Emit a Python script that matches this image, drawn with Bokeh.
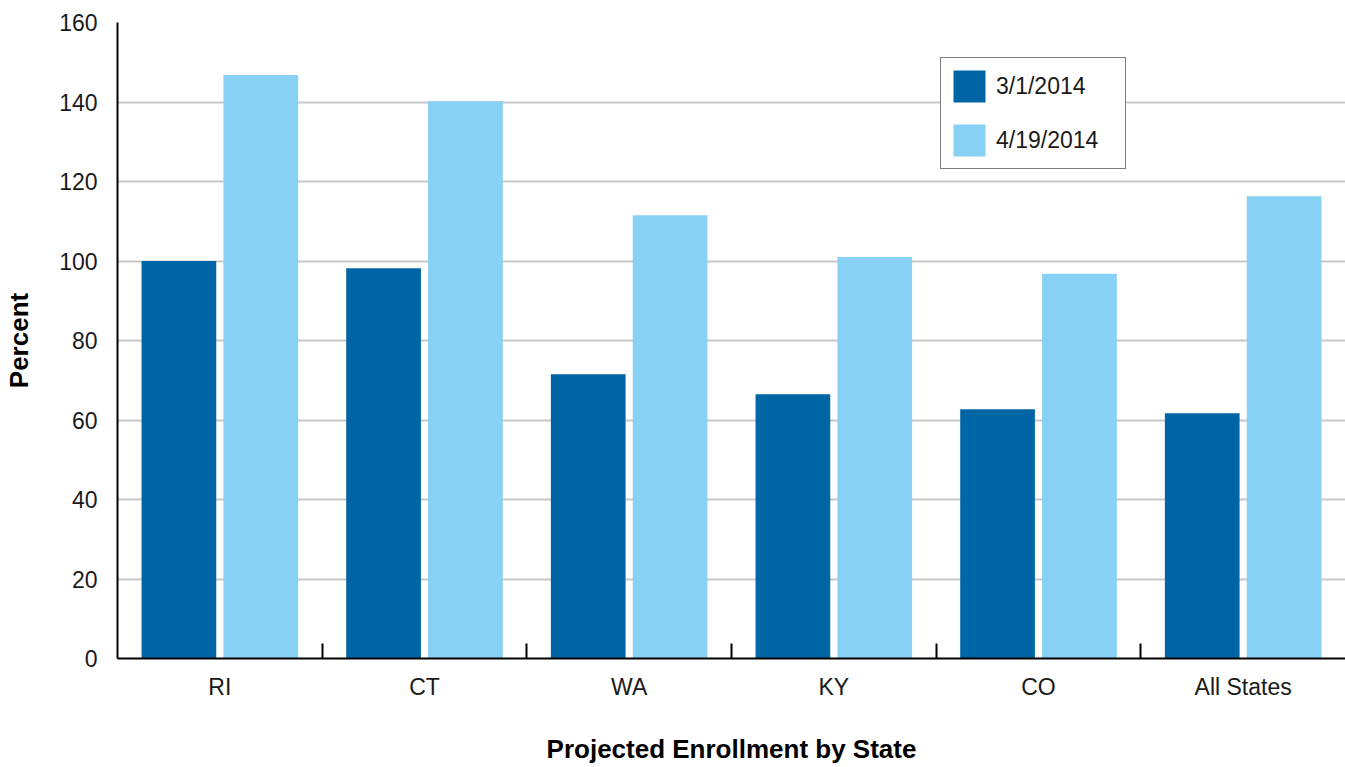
from bokeh.plotting import figure
from bokeh.models import ColumnDataSource, FixedTicker, Range1d, Legend, LegendItem
from bokeh.embed import file_html
from bokeh.resources import INLINE

# Projected enrollment (percent of target) per state at two dates
states = ["RI", "CT", "WA", "KY", "CO", "All States"]
enroll_mar = [100.0, 98.2, 71.5, 66.5, 62.7, 61.7]
enroll_apr = [146.8, 140.2, 111.5, 101.0, 96.8, 116.3]
series_labels = ["3/1/2014", "4/19/2014"]
y_ticks = [0, 20, 40, 60, 80, 100, 120, 140, 160]

DARK = "#0065a4"
LIGHT = "#87d1f5"
FONT = "Liberation Sans"

centers = [i + 0.5 for i in range(len(states))]
src = ColumnDataSource(dict(
    x_mar=[c - 0.2 for c in centers],
    x_apr=[c + 0.2 for c in centers],
    mar=enroll_mar,
    apr=enroll_apr,
))

p = figure(
    width=1345, height=767,
    x_range=Range1d(0, len(states)), y_range=Range1d(0, 160),
    output_backend="svg", toolbar_location=None,
    min_border_left=117, min_border_right=0,
    min_border_top=22, min_border_bottom=109,
)
p.outline_line_color = None
p.background_fill_color = "white"
p.border_fill_color = "white"

r_mar = p.vbar(x="x_mar", top="mar", bottom=0, width=0.365, source=src,
               fill_color=DARK, line_color=None)
r_apr = p.vbar(x="x_apr", top="apr", bottom=0, width=0.365, source=src,
               fill_color=LIGHT, line_color=None)

# grid
p.xgrid.visible = False
p.ygrid.grid_line_color = "#c8c8c8"
p.ygrid.grid_line_width = 2
p.ygrid.ticker = FixedTicker(ticks=y_ticks)

# x axis: labels centred on each state, short ticks between groups
xa = p.xaxis[0]
xa.ticker = FixedTicker(ticks=centers, minor_ticks=list(range(1, len(states))))
xa.major_label_overrides = {c: s for c, s in zip(centers, states)}
xa.major_tick_in = 0
xa.major_tick_out = 0
xa.minor_tick_in = 15
xa.minor_tick_out = 0
xa.minor_tick_line_color = "black"
xa.minor_tick_line_width = 2
xa.axis_line_color = "black"
xa.axis_line_width = 2
xa.major_label_text_font = FONT
xa.major_label_text_font_size = "23px"
xa.major_label_text_color = "#1a1a1a"
xa.major_label_standoff = 15
xa.axis_label = "Projected Enrollment by State"
xa.axis_label_text_font = FONT
xa.axis_label_text_font_size = "26px"
xa.axis_label_text_font_style = "bold"
xa.axis_label_text_color = "black"
xa.axis_label_standoff = 31

# y axis
ya = p.yaxis[0]
ya.ticker = FixedTicker(ticks=y_ticks)
ya.major_tick_in = 0
ya.major_tick_out = 0
ya.minor_tick_in = 0
ya.minor_tick_out = 0
ya.axis_line_color = "black"
ya.axis_line_width = 2
ya.major_label_text_font = FONT
ya.major_label_text_font_size = "23px"
ya.major_label_text_color = "#1a1a1a"
ya.major_label_standoff = 20
ya.axis_label = "Percent"
ya.axis_label_text_font = FONT
ya.axis_label_text_font_size = "26px"
ya.axis_label_text_font_style = "bold"
ya.axis_label_text_color = "black"
ya.axis_label_standoff = 22

legend = Legend(
    items=[LegendItem(label=series_labels[0], renderers=[r_mar]),
           LegendItem(label=series_labels[1], renderers=[r_apr])],
    location=(823, 489),
    orientation="vertical",
    glyph_width=40, glyph_height=40,
    spacing=14, padding=8, margin=0,
    label_standoff=7, label_width=121,
    label_text_font=FONT, label_text_font_size="23px",
    label_text_color="#1a1a1a",
    border_line_color="black", border_line_width=1,
    background_fill_color="white", background_fill_alpha=1.0,
)
p.add_layout(legend, "center")

open("out.html", "w").write(file_html(p, INLINE))
